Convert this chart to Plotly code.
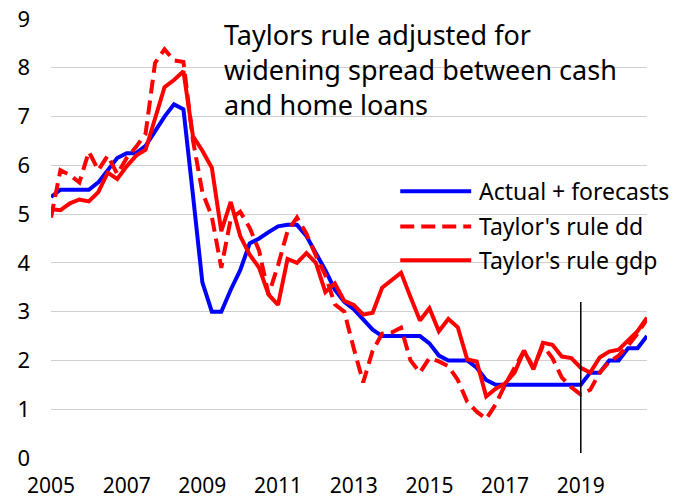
import plotly.graph_objects as go

# ---- data (quarterly, 2005Q1 .. 2020Q4) ----
start_year = 2005
n_quarters = 64
quarters = [start_year + i / 4 for i in range(n_quarters)]

actual_forecasts = [
    5.35, 5.5, 5.5, 5.5,
    5.5, 5.65, 5.9, 6.15,
    6.25, 6.25, 6.4, 6.7,
    7.0, 7.25, 7.15, 5.4,
    3.6, 3.0, 3.0, 3.45,
    3.85, 4.4, 4.5, 4.63,
    4.75, 4.78, 4.78, 4.55,
    4.2, 3.85, 3.45, 3.2,
    3.05, 2.85, 2.63, 2.5,
    2.5, 2.5, 2.5, 2.5,
    2.35, 2.1, 2.0, 2.0,
    2.0, 1.85, 1.6, 1.5,
    1.5, 1.5, 1.5, 1.5,
    1.5, 1.5, 1.5, 1.5,
    1.5, 1.75, 1.75, 2.0,
    2.0, 2.25, 2.25, 2.5,
]

taylor_dd = [
    4.93, 5.9, 5.8, 5.65,
    6.28, 5.9, 6.2, 5.82,
    6.15, 6.38, 6.65, 8.1,
    8.38, 8.15, 8.12, 6.52,
    5.45, 4.95, 3.9, 4.9,
    5.05, 4.72, 4.25, 3.35,
    3.95, 4.65, 4.93, 4.6,
    4.15, 3.75, 3.15, 3.0,
    2.25, 1.55, 2.2, 2.55,
    2.57, 2.67, 2.0, 1.75,
    2.05, 1.98, 1.88, 1.6,
    1.15, 0.95, 0.8, 1.1,
    1.5, 1.85, 2.2, 1.85,
    2.3, 2.05, 1.65, 1.45,
    1.3, 1.4, 1.75, 1.97,
    2.1, 2.3, 2.55, 2.85,
]

taylor_gdp = [
    5.1, 5.08, 5.22, 5.3,
    5.26, 5.45, 5.85, 5.72,
    5.98, 6.2, 6.32, 6.95,
    7.6, 7.75, 7.93, 6.6,
    6.3, 5.95, 4.65, 5.25,
    4.55, 4.17, 3.9, 3.35,
    3.14, 4.08, 4.0, 4.2,
    4.0, 3.4, 3.58, 3.22,
    3.14, 2.94, 2.98, 3.49,
    3.65, 3.8, 3.3, 2.82,
    3.07, 2.6, 2.85, 2.68,
    2.02, 1.98, 1.26, 1.42,
    1.53, 1.75, 2.2, 1.82,
    2.36, 2.32, 2.08, 2.05,
    1.85, 1.75, 2.06, 2.18,
    2.22, 2.42, 2.6, 2.88,
]

series_names = ["Actual + forecasts", "Taylor's rule dd", "Taylor's rule gdp"]
tick_years = [2005, 2007, 2009, 2011, 2013, 2015, 2017, 2019]
tick_labels = [str(y) for y in tick_years]
marker_year = 2019
marker_range = [0.1, 3.2]
title_lines = ["Taylors rule adjusted for", "widening spread between cash", "and home loans"]

BLUE = "#0000FF"
RED = "#FF0000"
FONT = "Noto Sans"

fig = go.Figure()
fig.add_trace(go.Scatter(x=quarters, y=actual_forecasts, mode="lines", name=series_names[0],
                         line=dict(color=BLUE, width=4)))
fig.add_trace(go.Scatter(x=quarters, y=taylor_dd, mode="lines", name=series_names[1],
                         line=dict(color=RED, width=4, dash="14px,7px")))
fig.add_trace(go.Scatter(x=quarters, y=taylor_gdp, mode="lines", name=series_names[2],
                         line=dict(color=RED, width=4)))

# vertical marker line
fig.add_shape(type="line", xref="x", yref="y", x0=marker_year, x1=marker_year,
              y0=marker_range[0], y1=marker_range[1], line=dict(color="black", width=1.5))

# manual legend
leg_y = [0.6077, 0.5276, 0.4506]
leg_styles = [dict(color=BLUE, width=4), dict(color=RED, width=4, dash="14px,7px"), dict(color=RED, width=4)]
for name, yy, st in zip(series_names, leg_y, leg_styles):
    fig.add_shape(type="line", xref="paper", yref="paper", x0=0.586, x1=0.705, y0=yy, y1=yy, line=st)
    fig.add_annotation(text=name, xref="paper", yref="paper", x=0.7154, y=yy,
                       xanchor="left", yanchor="middle", showarrow=False,
                       font=dict(family=FONT, size=23, color="black"))

# title (one text block)
fig.add_annotation(text="<br>".join(title_lines), xref="paper", yref="paper", x=0.287, y=0.885,
                   xanchor="left", yanchor="middle", align="left", showarrow=False,
                   font=dict(family=FONT, size=27, color="black"))

fig.update_layout(
    width=689, height=502,
    margin=dict(l=51, r=42, t=19, b=44, autoexpand=False),
    paper_bgcolor="white", plot_bgcolor="white",
    font=dict(family=FONT, size=22, color="black"),
    showlegend=False,
)
fig.update_xaxes(range=[2005, 2020.75], tickvals=tick_years, ticktext=tick_labels,
                 showgrid=False, zeroline=False, showline=False, ticks="",
                 tickfont=dict(size=21), ticklabelstandoff=13, automargin=False)
fig.update_yaxes(range=[0, 9], dtick=1, showgrid=True, gridcolor="#d0d0d0", gridwidth=1,
                 zeroline=False, showline=False, ticks="", ticklabelstandoff=20,
                 automargin=False)

fig.write_html("out.html")
